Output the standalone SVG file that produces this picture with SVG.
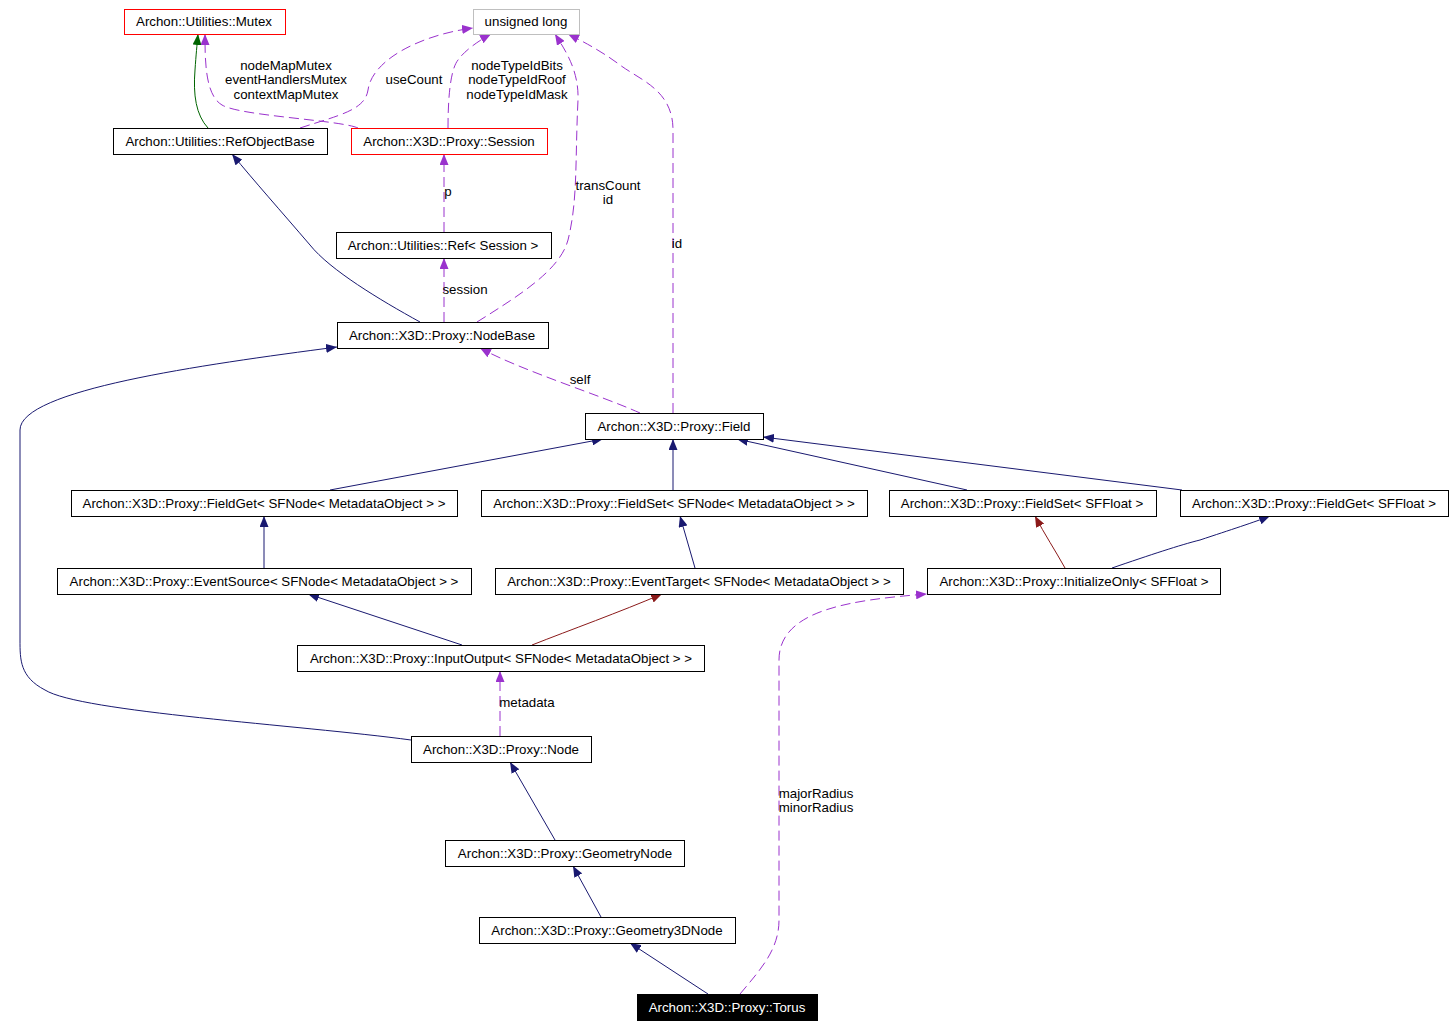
<svg xmlns="http://www.w3.org/2000/svg" width="1453" height="1027" viewBox="0 0 1453 1027">
<style>
text{font-family:"Liberation Sans",Arial,sans-serif;font-size:13.3px;fill:#000}
.n rect{fill:#fff;stroke:#000;stroke-width:1}
.n text{text-anchor:middle}
.red rect{stroke:#ff0000}
.gray rect{stroke:#bfbfbf}
.blk rect{fill:#000}
.blk text{fill:#fff}
.e path{fill:none;stroke-width:1}
.nv{stroke:#191970}
.dr{stroke:#8b1a1a}
.gr{stroke:#006400}
.pu{stroke:#9a32cd;stroke-dasharray:10,5}
.lb{text-anchor:middle}
</style>
<defs>
<marker id="aN" viewBox="0 0 11 9" refX="11" refY="4.5" markerWidth="11" markerHeight="9" markerUnits="userSpaceOnUse" orient="auto"><path d="M0,0 L11,4.5 L0,9 z" fill="#191970"/></marker>
<marker id="aR" viewBox="0 0 11 9" refX="11" refY="4.5" markerWidth="11" markerHeight="9" markerUnits="userSpaceOnUse" orient="auto"><path d="M0,0 L11,4.5 L0,9 z" fill="#8b1a1a"/></marker>
<marker id="aG" viewBox="0 0 11 9" refX="11" refY="4.5" markerWidth="11" markerHeight="9" markerUnits="userSpaceOnUse" orient="auto"><path d="M0,0 L11,4.5 L0,9 z" fill="#006400"/></marker>
<marker id="aP" viewBox="0 0 11 9" refX="11" refY="4.5" markerWidth="11" markerHeight="9" markerUnits="userSpaceOnUse" orient="auto"><path d="M0,0 L11,4.5 L0,9 z" fill="#9a32cd"/></marker>
</defs>
<rect width="1453" height="1027" fill="#fff"/>
<g id="edges" class="e">
<path class="gr" marker-end="url(#aG)" d="M208,128 C196,115 193,95 195,70 C196,55 197,45 198,34"/>
<path class="pu" marker-end="url(#aP)" d="M358,128 C340,120 240,116 222,105 C205,95 205,60 205,34"/>
<path class="pu" marker-end="url(#aP)" d="M300,128 C340,115 365,110 368,90 C372,60 420,35 473,28"/>
<path class="pu" marker-end="url(#aP)" d="M448,128 C448,100 450,70 458,60 C465,50 480,40 491,34"/>
<path class="pu" marker-end="url(#aP)" d="M477,322 C520,295 560,270 568,240 C578,200 575,160 578,100 C579,70 565,50 555,34"/>
<path class="pu" marker-end="url(#aP)" d="M673,413 L673,130 C673,90 640,80 620,65 C600,50 580,40 568,34"/>
<path class="pu" marker-end="url(#aP)" d="M444,232 L444,154"/>
<path class="pu" marker-end="url(#aP)" d="M444,322 L444,258"/>
<path class="nv" marker-end="url(#aN)" d="M420,322 C380,300 330,270 310,245 C280,210 255,182 232,154"/>
<path class="pu" marker-end="url(#aP)" d="M640,413 C600,395 520,370 480,348"/>
<path class="nv" marker-end="url(#aN)" d="M411,740 C300,725 80,712 45,690 C20,677 20,660 20,640 L20,430 C20,390 200,365 337,347"/>
<path class="nv" marker-end="url(#aN)" d="M330,490 L603,439"/>
<path class="nv" marker-end="url(#aN)" d="M673,490 L673,439"/>
<path class="nv" marker-end="url(#aN)" d="M967,490 L737,439"/>
<path class="nv" marker-end="url(#aN)" d="M1182,490 L763,437"/>
<path class="nv" marker-end="url(#aN)" d="M264,568 L264,516"/>
<path class="nv" marker-end="url(#aN)" d="M695,568 L680,516"/>
<path class="dr" marker-end="url(#aR)" d="M1065,568 C1055,550 1045,535 1035,516"/>
<path class="nv" marker-end="url(#aN)" d="M1112,568 C1150,555 1180,545 1200,540 C1230,530 1255,522 1270,516"/>
<path class="nv" marker-end="url(#aN)" d="M462,645 L308,594"/>
<path class="dr" marker-end="url(#aR)" d="M532,645 C570,630 620,612 662,594"/>
<path class="pu" marker-end="url(#aP)" d="M500,736 L500,671"/>
<path class="nv" marker-end="url(#aN)" d="M555,840 L510,762"/>
<path class="nv" marker-end="url(#aN)" d="M601,917 L573,866"/>
<path class="nv" marker-end="url(#aN)" d="M708,994 L630,943"/>
<path class="pu" marker-end="url(#aP)" d="M740,994 C760,970 779,950 779,920 L779,660 C779,610 850,600 927,594"/>
</g>
<g id="labels">
<text class="lb" x="286" y="70">nodeMapMutex</text>
<text class="lb" x="286" y="84">eventHandlersMutex</text>
<text class="lb" x="286" y="99">contextMapMutex</text>
<text class="lb" x="414" y="84">useCount</text>
<text class="lb" x="517" y="70">nodeTypeIdBits</text>
<text class="lb" x="517" y="84">nodeTypeIdRoof</text>
<text class="lb" x="517" y="99">nodeTypeIdMask</text>
<text class="lb" x="608" y="190">transCount</text>
<text class="lb" x="608" y="204">id</text>
<text class="lb" x="677" y="248">id</text>
<text class="lb" x="448" y="196">p</text>
<text class="lb" x="465" y="294">session</text>
<text class="lb" x="580" y="384">self</text>
<text class="lb" x="527" y="707">metadata</text>
<text class="lb" x="816" y="798">majorRadius</text>
<text class="lb" x="816" y="812">minorRadius</text>
</g>
<g id="n_mutex" class="n red"><rect x="124.5" y="9.5" width="161" height="25"/><text x="204" y="26">Archon::Utilities::Mutex</text></g>
<g id="n_ulong" class="n gray"><rect x="473.5" y="9.5" width="106" height="25"/><text x="526" y="26">unsigned long</text></g>
<g id="n_refobj" class="n"><rect x="113.5" y="128.5" width="214" height="26"/><text x="220" y="146">Archon::Utilities::RefObjectBase</text></g>
<g id="n_session" class="n red"><rect x="351.5" y="128.5" width="196" height="26"/><text x="449" y="146">Archon::X3D::Proxy::Session</text></g>
<g id="n_ref" class="n"><rect x="336.5" y="232.5" width="215" height="26"/><text x="443" y="250">Archon::Utilities::Ref&lt; Session &gt;</text></g>
<g id="n_nodebase" class="n"><rect x="337.5" y="322.5" width="211" height="26"/><text x="442" y="340">Archon::X3D::Proxy::NodeBase</text></g>
<g id="n_field" class="n"><rect x="585.5" y="413.5" width="178" height="26"/><text x="674" y="431">Archon::X3D::Proxy::Field</text></g>
<g id="n_fgnode" class="n"><rect x="71.5" y="490.5" width="386" height="26"/><text x="264" y="508">Archon::X3D::Proxy::FieldGet&lt; SFNode&lt; MetadataObject &gt; &gt;</text></g>
<g id="n_fsnode" class="n"><rect x="481.5" y="490.5" width="386" height="26"/><text x="674" y="508">Archon::X3D::Proxy::FieldSet&lt; SFNode&lt; MetadataObject &gt; &gt;</text></g>
<g id="n_fsfloat" class="n"><rect x="889.5" y="490.5" width="267" height="26"/><text x="1022" y="508">Archon::X3D::Proxy::FieldSet&lt; SFFloat &gt;</text></g>
<g id="n_fgfloat" class="n"><rect x="1180.5" y="490.5" width="268" height="26"/><text x="1314" y="508">Archon::X3D::Proxy::FieldGet&lt; SFFloat &gt;</text></g>
<g id="n_evsrc" class="n"><rect x="57.5" y="568.5" width="414" height="26"/><text x="264" y="586">Archon::X3D::Proxy::EventSource&lt; SFNode&lt; MetadataObject &gt; &gt;</text></g>
<g id="n_evtgt" class="n"><rect x="495.5" y="568.5" width="408" height="26"/><text x="699" y="586">Archon::X3D::Proxy::EventTarget&lt; SFNode&lt; MetadataObject &gt; &gt;</text></g>
<g id="n_initonly" class="n"><rect x="927.5" y="568.5" width="293" height="26"/><text x="1074" y="586">Archon::X3D::Proxy::InitializeOnly&lt; SFFloat &gt;</text></g>
<g id="n_inout" class="n"><rect x="297.5" y="645.5" width="407" height="26"/><text x="501" y="663">Archon::X3D::Proxy::InputOutput&lt; SFNode&lt; MetadataObject &gt; &gt;</text></g>
<g id="n_node" class="n"><rect x="411.5" y="736.5" width="180" height="26"/><text x="501" y="754">Archon::X3D::Proxy::Node</text></g>
<g id="n_geom" class="n"><rect x="445.5" y="840.5" width="239" height="26"/><text x="565" y="858">Archon::X3D::Proxy::GeometryNode</text></g>
<g id="n_geom3d" class="n"><rect x="479.5" y="917.5" width="256" height="26"/><text x="607" y="935">Archon::X3D::Proxy::Geometry3DNode</text></g>
<g id="n_torus" class="n blk"><rect x="637.5" y="994.5" width="180" height="26"/><text x="727" y="1012">Archon::X3D::Proxy::Torus</text></g>
</svg>
